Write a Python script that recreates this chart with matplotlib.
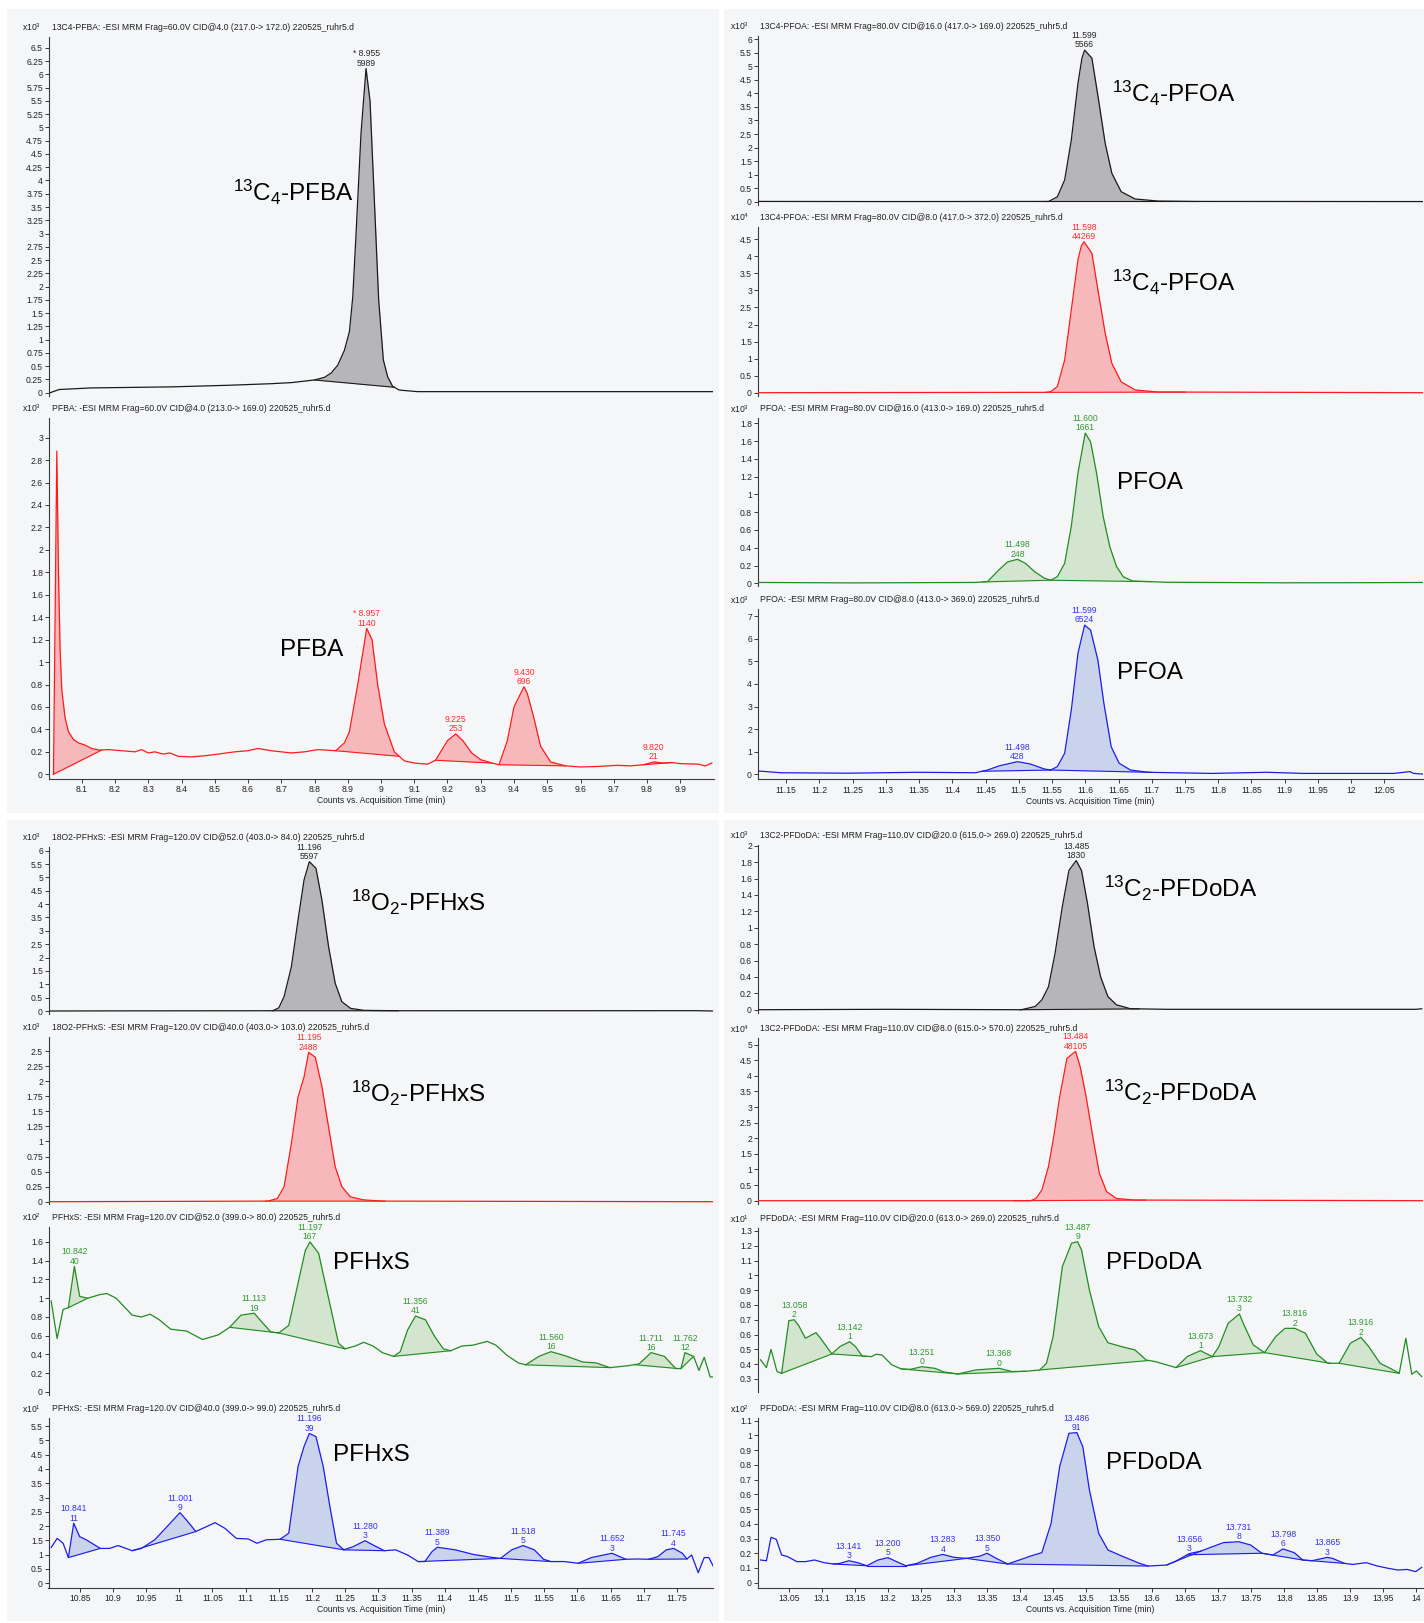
import numpy as np
import matplotlib.pyplot as plt
from matplotlib import font_manager
from matplotlib.patches import Rectangle

installed = {f.name for f in font_manager.fontManager.ttflist}
NARROW = 'Liberation Sans Narrow' in installed
plt.rcParams['font.family'] = ['Liberation Sans Narrow' if NARROW else 'Liberation Sans', 'DejaVu Sans']
plt.rcParams['mathtext.fontset'] = 'custom'
plt.rcParams['mathtext.rm'] = 'Liberation Sans'
plt.rcParams['mathtext.it'] = 'Liberation Sans:italic'
plt.rcParams['mathtext.bf'] = 'Liberation Sans:bold'
SMALL = 6.8 if NARROW else 6.2

# ---- chromatogram traces: (time min, response in axis units) ----
pfba_is = np.array([
    (8.005, 0.0), (8.032, 0.06), (8.127, 0.09), (8.37, 0.11), (8.54, 0.14), (8.67, 0.17),
    (8.73, 0.19), (8.80, 0.24), (8.83, 0.29), (8.85, 0.37), (8.87, 0.52), (8.89, 0.80),
    (8.905, 1.15), (8.915, 1.8), (8.925, 3.0), (8.94, 4.9), (8.955, 6.11), (8.967, 5.5),
    (8.98, 3.63), (8.993, 1.75), (9.007, 0.62), (9.02, 0.3), (9.035, 0.12), (9.055, 0.05),
    (9.11, 0.02), (9.5, 0.02), (9.998, 0.02)])
pfba = np.array([
    (8.015, 0.0), (8.025, 2.88), (8.03, 1.8), (8.035, 1.1), (8.04, 0.75), (8.05, 0.5),
    (8.06, 0.38), (8.075, 0.31), (8.09, 0.28), (8.11, 0.26), (8.13, 0.23), (8.155, 0.215),
    (8.18, 0.22), (8.26, 0.20), (8.28, 0.22), (8.30, 0.19), (8.32, 0.20), (8.345, 0.18),
    (8.365, 0.19), (8.39, 0.16), (8.43, 0.155), (8.47, 0.165), (8.51, 0.18), (8.56, 0.20),
    (8.60, 0.21), (8.63, 0.23), (8.67, 0.21), (8.73, 0.19), (8.77, 0.20), (8.81, 0.22),
    (8.864, 0.21), (8.89, 0.28), (8.905, 0.38), (8.93, 0.8), (8.957, 1.30), (8.973, 1.2),
    (8.99, 0.8), (9.01, 0.45), (9.04, 0.2), (9.07, 0.12), (9.10, 0.10), (9.14, 0.09),
    (9.164, 0.125), (9.20, 0.30), (9.225, 0.36), (9.246, 0.30), (9.273, 0.19), (9.30, 0.13),
    (9.334, 0.10), (9.355, 0.085), (9.38, 0.3), (9.40, 0.6), (9.43, 0.78), (9.44, 0.72),
    (9.46, 0.5), (9.48, 0.25), (9.51, 0.11), (9.555, 0.075), (9.60, 0.065), (9.655, 0.07),
    (9.71, 0.08), (9.75, 0.075), (9.79, 0.085), (9.82, 0.11), (9.85, 0.10), (9.875, 0.105),
    (9.90, 0.095), (9.955, 0.09), (9.975, 0.075), (9.995, 0.10)])

pfoa_is_169 = np.array([
    (11.107, 0.01), (11.30, 0.005), (11.545, 0.01), (11.558, 0.18), (11.569, 0.8),
    (11.579, 2.28), (11.589, 4.37), (11.595, 5.3), (11.599, 5.6), (11.61, 5.3), (11.62, 3.76),
    (11.63, 2.15), (11.64, 1.05), (11.654, 0.37), (11.675, 0.1), (11.709, 0.025),
    (11.763, 0.01), (12.108, 0.005)])
pfoa_is_372 = np.array([
    (11.107, 0.0), (11.54, 0.01), (11.548, 0.03), (11.558, 0.18), (11.569, 0.96),
    (11.579, 2.43), (11.589, 3.9), (11.594, 4.3), (11.598, 4.43), (11.61, 4.09), (11.62, 2.9),
    (11.63, 1.74), (11.64, 0.86), (11.654, 0.32), (11.675, 0.08), (11.709, 0.02), (12.108, 0.0)])
pfoa_169 = np.array([
    (11.107, 0.01), (11.25, 0.005), (11.435, 0.01), (11.453, 0.02), (11.47, 0.15),
    (11.483, 0.24), (11.498, 0.27), (11.51, 0.225), (11.524, 0.13), (11.538, 0.06),
    (11.548, 0.035), (11.558, 0.075), (11.569, 0.225), (11.579, 0.64), (11.589, 1.24),
    (11.600, 1.69), (11.608, 1.59), (11.617, 1.24), (11.627, 0.75), (11.637, 0.41),
    (11.647, 0.19), (11.657, 0.075), (11.671, 0.026), (11.695, 0.02), (11.722, 0.012),
    (11.9, 0.006), (12.05, 0.008), (12.108, 0.01)])
pfoa_369 = np.array([
    (11.107, 0.15), (11.142, 0.07), (11.244, 0.05), (11.347, 0.09), (11.435, 0.07),
    (11.453, 0.19), (11.47, 0.37), (11.498, 0.56), (11.517, 0.46), (11.538, 0.24),
    (11.548, 0.19), (11.558, 0.34), (11.569, 0.93), (11.579, 2.84), (11.589, 5.35),
    (11.599, 6.6), (11.608, 6.38), (11.619, 5.05), (11.628, 3.14), (11.639, 1.22),
    (11.651, 0.49), (11.668, 0.19), (11.695, 0.09), (11.79, 0.04), (11.873, 0.09),
    (11.928, 0.04), (12.064, 0.04), (12.088, 0.12), (12.094, 0.04), (12.108, 0.01)])

pfhxs_is_84 = np.array([
    (10.803, 0.0), (10.9, 0.005), (11.141, 0.01), (11.15, 0.12), (11.158, 0.54),
    (11.169, 1.66), (11.179, 3.41), (11.188, 4.9), (11.196, 5.59), (11.206, 5.34),
    (11.215, 4.15), (11.225, 2.41), (11.235, 1.04), (11.245, 0.35), (11.258, 0.1),
    (11.278, 0.025), (11.326, 0.01), (11.779, 0.012), (11.805, 0.0)])
pfhxs_is_103 = np.array([
    (10.803, 0.0), (11.134, 0.01), (11.148, 0.055), (11.158, 0.25), (11.169, 0.97),
    (11.179, 1.74), (11.188, 2.07), (11.195, 2.48), (11.205, 2.4), (11.215, 1.91),
    (11.225, 1.24), (11.235, 0.58), (11.245, 0.25), (11.258, 0.08), (11.278, 0.03),
    (11.306, 0.01), (11.805, 0.0)])
pfhxs_80 = np.array([
    (10.807, 0.97), (10.816, 0.57), (10.825, 0.88), (10.833, 0.90), (10.842, 1.34),
    (10.85, 1.02), (10.862, 1.00), (10.881, 1.04), (10.891, 1.05), (10.905, 1.0),
    (10.929, 0.82), (10.943, 0.80), (10.956, 0.83), (10.97, 0.77), (10.987, 0.67),
    (11.011, 0.65), (11.035, 0.56), (11.059, 0.61), (11.076, 0.69), (11.093, 0.82),
    (11.113, 0.84), (11.124, 0.75), (11.138, 0.64), (11.15, 0.63), (11.165, 0.71),
    (11.179, 1.16), (11.19, 1.51), (11.197, 1.60), (11.21, 1.48), (11.22, 1.16),
    (11.23, 0.84), (11.24, 0.52), (11.25, 0.46), (11.265, 0.49), (11.278, 0.53),
    (11.292, 0.49), (11.306, 0.42), (11.323, 0.38), (11.333, 0.43), (11.344, 0.66),
    (11.356, 0.81), (11.371, 0.77), (11.385, 0.59), (11.398, 0.46), (11.409, 0.44),
    (11.426, 0.49), (11.443, 0.50), (11.464, 0.54), (11.477, 0.50), (11.494, 0.39),
    (11.511, 0.31), (11.522, 0.29), (11.542, 0.38), (11.560, 0.43), (11.58, 0.39),
    (11.608, 0.32), (11.628, 0.31), (11.649, 0.26), (11.676, 0.28), (11.693, 0.30),
    (11.711, 0.42), (11.731, 0.38), (11.748, 0.25), (11.756, 0.25), (11.762, 0.42),
    (11.775, 0.38), (11.783, 0.23), (11.791, 0.37), (11.80, 0.16), (11.805, 0.16)])
pfhxs_99 = np.array([
    (10.807, 1.25), (10.816, 1.57), (10.825, 1.40), (10.833, 0.90), (10.841, 2.10),
    (10.85, 1.63), (10.86, 1.52), (10.881, 1.22), (10.895, 1.22), (10.908, 1.32),
    (10.929, 1.14), (10.943, 1.22), (10.963, 1.52), (10.984, 2.04), (11.001, 2.47),
    (11.011, 2.21), (11.025, 1.81), (11.038, 1.95), (11.054, 2.12), (11.069, 1.92),
    (11.086, 1.57), (11.104, 1.55), (11.117, 1.40), (11.131, 1.52), (11.152, 1.54),
    (11.165, 1.75), (11.179, 4.08), (11.188, 4.78), (11.196, 5.24), (11.206, 5.13),
    (11.217, 4.08), (11.227, 2.68), (11.237, 1.40), (11.248, 1.17), (11.262, 1.28),
    (11.280, 1.49), (11.292, 1.34), (11.309, 1.14), (11.326, 1.17), (11.344, 0.99),
    (11.36, 0.76), (11.37, 0.76), (11.381, 1.11), (11.389, 1.26), (11.416, 1.17),
    (11.443, 1.01), (11.47, 0.91), (11.484, 0.87), (11.501, 1.17), (11.518, 1.32),
    (11.535, 1.17), (11.549, 0.84), (11.56, 0.76), (11.58, 0.76), (11.601, 0.70),
    (11.621, 0.90), (11.652, 1.05), (11.673, 0.84), (11.69, 0.85), (11.707, 0.84),
    (11.721, 0.93), (11.734, 1.17), (11.745, 1.22), (11.758, 1.05), (11.765, 0.85),
    (11.772, 0.99), (11.782, 0.37), (11.791, 0.90), (11.798, 0.90), (11.805, 0.58)])

pfdoda_is_269 = np.array([
    (13.003, 0.0), (13.2, 0.005), (13.402, 0.0), (13.423, 0.04), (13.433, 0.12),
    (13.443, 0.28), (13.453, 0.69), (13.464, 1.26), (13.474, 1.70), (13.485, 1.82),
    (13.493, 1.70), (13.502, 1.30), (13.512, 0.77), (13.522, 0.40), (13.533, 0.16),
    (13.546, 0.06), (13.567, 0.012), (13.622, 0.005), (14.0, 0.005), (14.008, 0.012)])
pfdoda_is_570 = np.array([
    (13.003, 0.0), (13.416, 0.0), (13.424, 0.07), (13.433, 0.34), (13.443, 1.09),
    (13.451, 2.05), (13.46, 3.33), (13.471, 4.56), (13.484, 4.78), (13.491, 4.29),
    (13.50, 3.33), (13.511, 1.94), (13.52, 0.88), (13.531, 0.29), (13.546, 0.07),
    (13.574, 0.02), (14.01, 0.0)])
pfdoda_269 = np.array([
    (13.007, 0.43), (13.016, 0.377), (13.023, 0.50), (13.032, 0.35), (13.039, 0.338),
    (13.05, 0.694), (13.058, 0.70), (13.065, 0.66), (13.075, 0.575), (13.091, 0.613),
    (13.098, 0.575), (13.115, 0.469), (13.127, 0.518), (13.142, 0.552), (13.151, 0.518),
    (13.161, 0.455), (13.175, 0.451), (13.182, 0.467), (13.191, 0.462), (13.206, 0.395),
    (13.22, 0.368), (13.234, 0.365), (13.251, 0.383), (13.271, 0.372), (13.285, 0.347),
    (13.306, 0.334), (13.333, 0.361), (13.368, 0.372), (13.388, 0.35), (13.409, 0.352),
    (13.43, 0.361), (13.44, 0.406), (13.45, 0.586), (13.464, 1.059), (13.478, 1.217),
    (13.487, 1.228), (13.493, 1.172), (13.505, 0.901), (13.519, 0.654), (13.533, 0.545),
    (13.554, 0.518), (13.574, 0.496), (13.591, 0.428), (13.605, 0.417), (13.622, 0.395),
    (13.636, 0.377), (13.653, 0.451), (13.673, 0.491), (13.691, 0.451), (13.701, 0.518),
    (13.715, 0.676), (13.732, 0.739), (13.739, 0.665), (13.753, 0.53), (13.77, 0.478),
    (13.787, 0.586), (13.801, 0.642), (13.816, 0.642), (13.832, 0.609), (13.849, 0.469),
    (13.866, 0.406), (13.883, 0.406), (13.9, 0.541), (13.916, 0.581), (13.928, 0.518),
    (13.945, 0.406), (13.962, 0.368), (13.974, 0.338), (13.984, 0.575), (13.993, 0.332),
    (14.0, 0.354), (14.008, 0.316)])
pfdoda_569 = np.array([
    (13.007, 0.154), (13.016, 0.149), (13.023, 0.308), (13.031, 0.294), (13.039, 0.188),
    (13.048, 0.177), (13.062, 0.143), (13.075, 0.143), (13.089, 0.154), (13.103, 0.136),
    (13.117, 0.127), (13.127, 0.131), (13.141, 0.149), (13.154, 0.136), (13.168, 0.115),
    (13.185, 0.154), (13.200, 0.17), (13.213, 0.143), (13.227, 0.115), (13.244, 0.131),
    (13.265, 0.172), (13.283, 0.192), (13.30, 0.172), (13.319, 0.165), (13.34, 0.181),
    (13.350, 0.20), (13.364, 0.165), (13.381, 0.127), (13.399, 0.154), (13.416, 0.181),
    (13.433, 0.204), (13.447, 0.403), (13.46, 0.788), (13.474, 1.014), (13.486, 1.019),
    (13.495, 0.923), (13.505, 0.629), (13.519, 0.335), (13.533, 0.222), (13.554, 0.181),
    (13.581, 0.131), (13.594, 0.113), (13.622, 0.12), (13.636, 0.147), (13.656, 0.197),
    (13.674, 0.215), (13.691, 0.244), (13.708, 0.272), (13.731, 0.278), (13.749, 0.256),
    (13.766, 0.20), (13.783, 0.188), (13.798, 0.229), (13.815, 0.204), (13.828, 0.154),
    (13.842, 0.149), (13.865, 0.172), (13.873, 0.165), (13.891, 0.131), (13.904, 0.124),
    (13.924, 0.136), (13.941, 0.113), (13.958, 0.097), (13.972, 0.086), (13.986, 0.09),
    (13.999, 0.075), (14.008, 0.104)])

# ---- integrated peaks: (retention time, area, start, end) ----
pfba_is_peaks = [(8.955, '5989', 8.80, 9.04)]
pfba_peaks = [(None, None, 8.015, 8.16), (8.957, '1140', 8.864, 9.055),
              (9.225, '253', 9.164, 9.334), (9.430, '696', 9.355, 9.555),
              (9.820, '21', 9.79, 9.875)]
pfoa_is_169_peaks = [(11.599, '5566', 11.54, 11.77)]
pfoa_is_372_peaks = [(11.598, '44269', 11.54, 11.75)]
pfoa_169_peaks = [(11.498, '248', 11.445, 11.548), (11.600, '1661', 11.548, 11.70)]
pfoa_369_peaks = [(11.498, '428', 11.445, 11.548), (11.599, '6524', 11.548, 11.70)]
pfhxs_is_84_peaks = [(11.196, '5597', 11.14, 11.33)]
pfhxs_is_103_peaks = [(11.195, '2488', 11.13, 11.31)]
pfhxs_80_peaks = [(10.842, '40', 10.833, 10.862), (11.113, '19', 11.076, 11.15),
                  (11.197, '167', 11.15, 11.25), (11.356, '41', 11.323, 11.409),
                  (11.560, '16', 11.522, 11.649), (11.711, '16', 11.686, 11.751),
                  (11.762, '12', 11.756, 11.775)]
pfhxs_99_peaks = [(10.841, '11', 10.833, 10.881), (11.001, '9', 10.929, 11.025),
                  (11.196, '39', 11.152, 11.248), (11.280, '3', 11.248, 11.309),
                  (11.389, '5', 11.36, 11.484), (11.518, '5', 11.484, 11.56),
                  (11.652, '3', 11.601, 11.673), (11.745, '4', 11.707, 11.765)]
pfdoda_is_269_peaks = [(13.485, '1830', 13.40, 13.58)]
pfdoda_is_570_peaks = [(13.484, '48105', 13.39, 13.59)]
pfdoda_269_peaks = [(13.058, '2', 13.039, 13.115), (13.142, '1', 13.115, 13.168),
                    (13.251, '0', 13.22, 13.306), (13.368, '0', 13.306, 13.409),
                    (13.487, '9', 13.43, 13.595), (13.673, '1', 13.636, 13.691),
                    (13.732, '3', 13.691, 13.77), (13.816, '2', 13.77, 13.87),
                    (13.916, '2', 13.883, 13.974)]
pfdoda_569_peaks = [(13.141, '3', 13.117, 13.168), (13.200, '5', 13.168, 13.227),
                    (13.283, '4', 13.227, 13.319), (13.350, '5', 13.319, 13.381),
                    (13.486, '91', 13.381, 13.594), (13.656, '3', 13.622, 13.674),
                    (13.731, '8', 13.653, 13.766), (13.798, '6', 13.766, 13.828),
                    (13.865, '3', 13.828, 13.891)]

# line colour, fill colour, label colour
STYLES = {
    'gray': ('#1a1a1a', '#b6b6b8', '#262626'),
    'red': ('#ff1a1a', '#f7b8bc', '#ff2e2e'),
    'green': ('#228b22', '#d3e5cf', '#2f9a2f'),
    'blue': ('#1c1cec', '#c9d4ec', '#3434ee'),
}

W, H = 1424, 1623
fig = plt.figure(figsize=(W / 100, H / 100), dpi=100)
fig.patch.set_facecolor('white')

for x0, y0, x1, y1 in [(7, 9, 719, 813), (724, 9, 1424, 813),
                       (7, 820, 719, 1621), (724, 820, 1424, 1621)]:
    fig.add_artist(Rectangle((x0 / W, 1 - y1 / H), (x1 - x0) / W, (y1 - y0) / H,
                             transform=fig.transFigure, facecolor='#f5f6f8',
                             edgecolor='none', zorder=-5))

LEFT = (48.5, 713.5)
RIGHT = (757.5, 1423)


def panel(cols, rows, xlim, ylim, yticks, exponent, title):
    left, right = cols
    top, bottom = rows
    ax = fig.add_axes([left / W, 1 - bottom / H, (right - left) / W, (bottom - top) / H])
    ax.set_facecolor('none')
    ax.set_xlim(xlim)
    ax.set_ylim(ylim)
    for side in ('top', 'right', 'bottom'):
        ax.spines[side].set_visible(False)
    ax.spines['left'].set_color('#3a3a3a')
    ax.spines['left'].set_linewidth(0.8)
    yticks = np.round(yticks, 2)
    ax.set_yticks(yticks)
    ax.set_yticklabels([f'{v:g}' for v in yticks])
    ax.tick_params(axis='y', length=3, width=0.7, pad=1, labelsize=SMALL,
                   colors='#3a3a3a', labelcolor='#222222')
    ax.tick_params(axis='x', bottom=False, labelbottom=False)
    ty = 1 - (top - 9.5) / H
    fig.text((left + 3) / W, ty, title, fontsize=SMALL, va='center', color='#222222')
    fig.text((left - 27) / W, ty, rf'x10$^{{{exponent}}}$', fontsize=SMALL,
             va='center', color='#222222')
    return ax


def time_axis(ax, ticks):
    ticks = np.round(ticks, 2)
    ax.spines['bottom'].set_visible(True)
    ax.spines['bottom'].set_color('#3a3a3a')
    ax.spines['bottom'].set_linewidth(0.8)
    ax.set_xticks(ticks)
    ax.set_xticklabels([f'{v:g}' for v in ticks])
    ax.tick_params(axis='x', bottom=True, labelbottom=True, length=3, width=0.7,
                   pad=1.5, labelsize=SMALL, colors='#3a3a3a', labelcolor='#222222')
    ax.set_xlabel('Counts vs. Acquisition Time (min)', fontsize=SMALL, labelpad=1.5,
                  color='#222222')


def draw_trace(ax, trace, peaks, style, star=()):
    line, fill, label = STYLES[style]
    t, y = trace[:, 0], trace[:, 1]
    for rt, area, t0, t1 in peaks:
        inside = (t > t0) & (t < t1)
        xs = np.concatenate([[t0], t[inside], [t1]])
        ys = np.interp(xs, t, y)
        ends = np.interp([t0, t1], t, y)
        base = np.interp(xs, [t0, t1], ends)
        ax.fill_between(xs, base, ys, color=fill, lw=0, zorder=1)
        ax.plot([t0, t1], ends, color=line, lw=0.8, zorder=2)
        if rt is not None:
            prefix = '* ' if rt in star else ''
            ax.annotate(f'{prefix}{rt:.3f}\n{area}', xy=(rt, np.interp(rt, t, y)),
                        xytext=(0, 0.5), textcoords='offset points', ha='center',
                        va='bottom', fontsize=SMALL, color=label, linespacing=1.05,
                        zorder=4, annotation_clip=False)
    ax.plot(t, y, color=line, lw=0.9, zorder=3)


def compound(x, y, text):
    fig.text(x / W, 1 - y / H, text, fontsize=17.5, family='Liberation Sans',
             va='center', ha='left', color='black')


# ---- PFBA ----
xl = (8.0, 10.0)
ax = panel(LEFT, (36.7, 396), xl, (-0.062, 6.71), np.arange(0, 6.51, 0.25), 3,
           '13C4-PFBA: -ESI MRM Frag=60.0V CID@4.0 (217.0-> 172.0) 220525_ruhr5.d')
draw_trace(ax, pfba_is, pfba_is_peaks, 'gray', star=(8.955,))
ax = panel(LEFT, (418, 779), xl, (-0.042, 3.175), np.arange(0, 3.01, 0.2), 3,
           'PFBA: -ESI MRM Frag=60.0V CID@4.0 (213.0-> 169.0) 220525_ruhr5.d')
draw_trace(ax, pfba, pfba_peaks, 'red', star=(8.957,))
time_axis(ax, np.arange(8.1, 9.95, 0.1))
compound(233, 192, r'$^{13}$C$_4$-PFBA')
compound(280, 650, 'PFBA')

# ---- PFOA ----
xl = (11.107, 12.108)
ax = panel(RIGHT, (36, 205), xl, (-0.122, 6.12), np.arange(0, 6.01, 0.5), 3,
           '13C4-PFOA: -ESI MRM Frag=80.0V CID@16.0 (417.0-> 169.0) 220525_ruhr5.d')
draw_trace(ax, pfoa_is_169, pfoa_is_169_peaks, 'gray')
ax = panel(RIGHT, (226.7, 396), xl, (-0.097, 4.87), np.arange(0, 4.51, 0.5), 4,
           '13C4-PFOA: -ESI MRM Frag=80.0V CID@8.0 (417.0-> 372.0) 220525_ruhr5.d')
draw_trace(ax, pfoa_is_372, pfoa_is_372_peaks, 'red')
ax = panel(RIGHT, (418.3, 586), xl, (-0.03, 1.856), np.arange(0, 1.81, 0.2), 3,
           'PFOA: -ESI MRM Frag=80.0V CID@16.0 (413.0-> 169.0) 220525_ruhr5.d')
draw_trace(ax, pfoa_169, pfoa_169_peaks, 'green')
ax = panel(RIGHT, (609.3, 779.3), xl, (-0.22, 7.30), np.arange(0, 7.01, 1), 3,
           'PFOA: -ESI MRM Frag=80.0V CID@8.0 (413.0-> 369.0) 220525_ruhr5.d')
draw_trace(ax, pfoa_369, pfoa_369_peaks, 'blue')
time_axis(ax, np.arange(11.15, 12.06, 0.05))
compound(1112, 93, r'$^{13}$C$_4$-PFOA')
compound(1112, 282, r'$^{13}$C$_4$-PFOA')
compound(1117, 483, 'PFOA')
compound(1117, 673, 'PFOA')

# ---- PFHxS ----
xl = (10.803, 11.805)
ax = panel(LEFT, (846.7, 1014), xl, (-0.112, 6.15), np.arange(0, 6.01, 0.5), 3,
           '18O2-PFHxS: -ESI MRM Frag=120.0V CID@52.0 (403.0-> 84.0) 220525_ruhr5.d')
draw_trace(ax, pfhxs_is_84, pfhxs_is_84_peaks, 'gray')
ax = panel(LEFT, (1036.7, 1204), xl, (-0.038, 2.74), np.arange(0, 2.51, 0.25), 3,
           '18O2-PFHxS: -ESI MRM Frag=120.0V CID@40.0 (403.0-> 103.0) 220525_ruhr5.d')
draw_trace(ax, pfhxs_is_103, pfhxs_is_103_peaks, 'red')
ax = panel(LEFT, (1226.7, 1395), xl, (-0.032, 1.763), np.arange(0, 1.61, 0.2), 2,
           'PFHxS: -ESI MRM Frag=120.0V CID@52.0 (399.0-> 80.0) 220525_ruhr5.d')
draw_trace(ax, pfhxs_80, pfhxs_80_peaks, 'green')
ax = panel(LEFT, (1418.3, 1587.7), xl, (-0.154, 5.77), np.arange(0, 5.51, 0.5), 1,
           'PFHxS: -ESI MRM Frag=120.0V CID@40.0 (399.0-> 99.0) 220525_ruhr5.d')
draw_trace(ax, pfhxs_99, pfhxs_99_peaks, 'blue')
time_axis(ax, np.arange(10.85, 11.76, 0.05))
compound(351, 902, r'$^{18}$O$_2$-PFHxS')
compound(351, 1093, r'$^{18}$O$_2$-PFHxS')
compound(333, 1263, 'PFHxS')
compound(333, 1455, 'PFHxS')

# ---- PFDoDA ----
xl = (13.0025, 14.01)
ax = panel(RIGHT, (845, 1013), xl, (-0.04, 2.01), np.arange(0, 2.01, 0.2), 3,
           '13C2-PFDoDA: -ESI MRM Frag=110.0V CID@20.0 (615.0-> 269.0) 220525_ruhr5.d')
draw_trace(ax, pfdoda_is_269, pfdoda_is_269_peaks, 'gray')
ax = panel(RIGHT, (1038.3, 1204), xl, (-0.106, 5.2), np.arange(0, 5.01, 0.5), 4,
           '13C2-PFDoDA: -ESI MRM Frag=110.0V CID@8.0 (615.0-> 570.0) 220525_ruhr5.d')
draw_trace(ax, pfdoda_is_570, pfdoda_is_570_peaks, 'red')
ax = panel(RIGHT, (1228.3, 1391.7), xl, (0.214, 1.318), np.arange(0.3, 1.31, 0.1), 1,
           'PFDoDA: -ESI MRM Frag=110.0V CID@20.0 (613.0-> 269.0) 220525_ruhr5.d')
draw_trace(ax, pfdoda_269, pfdoda_269_peaks, 'green')
ax = panel(RIGHT, (1418.3, 1587.7), xl, (-0.034, 1.116), np.arange(0, 1.11, 0.1), 2,
           'PFDoDA: -ESI MRM Frag=110.0V CID@8.0 (613.0-> 569.0) 220525_ruhr5.d')
draw_trace(ax, pfdoda_569, pfdoda_569_peaks, 'blue')
time_axis(ax, np.arange(13.05, 14.001, 0.05))
compound(1104, 888, r'$^{13}$C$_2$-PFDoDA')
compound(1104, 1092, r'$^{13}$C$_2$-PFDoDA')
compound(1106, 1263, 'PFDoDA')
compound(1106, 1463, 'PFDoDA')

fig.savefig('out.png', dpi=100, facecolor=fig.get_facecolor())
